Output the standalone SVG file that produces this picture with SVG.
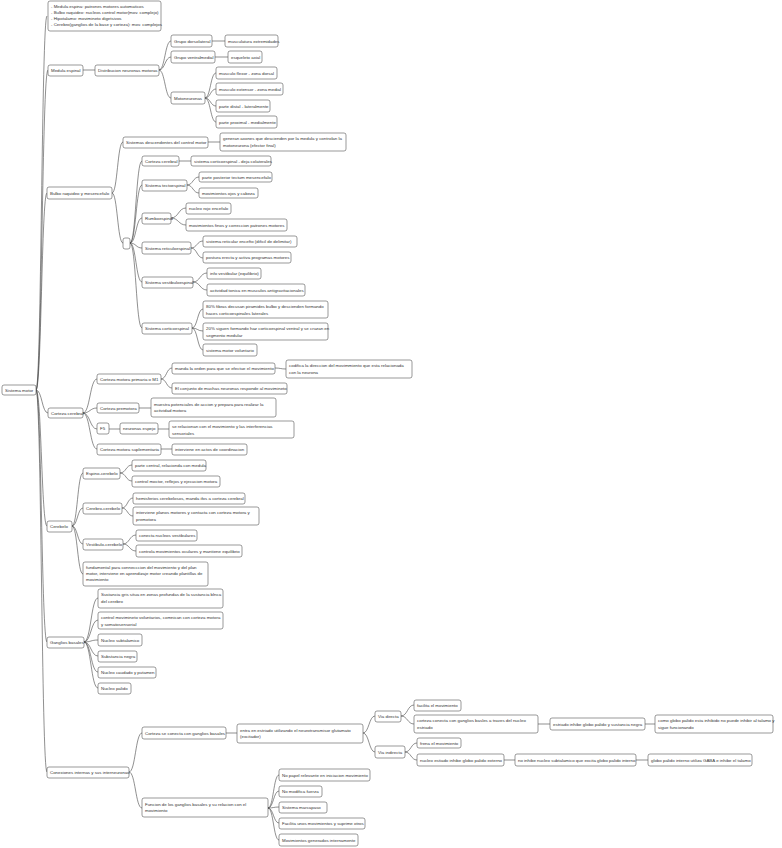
<svg xmlns="http://www.w3.org/2000/svg" width="782" height="848" viewBox="0 0 782 848">
<style>
rect{fill:#fff;stroke:#555;stroke-width:0.6}
text{font-family:"Liberation Sans",Arial,sans-serif;font-size:4.4px;fill:#333}
#connectors path{fill:none;stroke:#444;stroke-width:0.6}
</style>
<rect x="0" y="0" width="782" height="848" style="stroke:none"/>
<g id="connectors">
<path d="M36 390C41.5 390 41.5 16 47 16"/><path d="M36 390C42 390 42 70 48 70"/><path d="M36 390C41.5 390 41.5 193 47 193"/><path d="M36 390C42 390 42 413 48 413"/><path d="M36 390C41.5 390 41.5 526 47 526"/><path d="M36 390C41.5 390 41.5 642 47 642"/><path d="M36 390C41.5 390 41.5 772 47 772"/>
<path d="M83 70H95"/>
<path d="M159 70C165 70 165 41 171 41"/><path d="M159 70C165 70 165 57 171 57"/><path d="M159 70C165 70 165 98 171 98"/>
<path d="M212 41H225"/><path d="M215 57H228"/>
<path d="M205 98C210.5 98 210.5 73 216 73"/><path d="M205 98C210.5 98 210.5 89 216 89"/><path d="M205 98C210.5 98 210.5 106 216 106"/><path d="M205 98C210.5 98 210.5 122 216 122"/>
<path d="M112 193C117.5 193 117.5 142 123 142"/><path d="M112 193C117.5 193 117.5 243 123 243"/>
<path d="M208 142H220"/>
<path d="M130 243C136 243 136 161 142 161"/><path d="M130 243C136 243 136 185 142 185"/><path d="M130 243C136 243 136 218 142 218"/><path d="M130 243C136 243 136 248 142 248"/><path d="M130 243C136 243 136 282 142 282"/><path d="M130 243C136 243 136 328 142 328"/>
<path d="M179 161H191"/>
<path d="M187 185C193 185 193 177 199 177"/><path d="M187 185C193 185 193 193 199 193"/>
<path d="M171 218C178.5 218 178.5 208 186 208"/><path d="M171 218C178.5 218 178.5 225 186 225"/>
<path d="M191 248C197 248 197 241 203 241"/><path d="M191 248C197 248 197 258 203 258"/>
<path d="M193 282C200 282 200 273 207 273"/><path d="M193 282C200 282 200 290 207 290"/>
<path d="M192 328C197.5 328 197.5 309 203 309"/><path d="M192 328C197.5 328 197.5 331 203 331"/><path d="M192 328C197.5 328 197.5 350 203 350"/>
<path d="M83 413C90 413 90 379 97 379"/><path d="M83 413C90 413 90 408 97 408"/><path d="M83 413C90 413 90 429 97 429"/><path d="M83 413C90 413 90 449 97 449"/>
<path d="M161 379C166.5 379 166.5 368 172 368"/><path d="M161 379C166.5 379 166.5 388 172 388"/>
<path d="M275 368C280.5 368 280.5 369 286 369"/>
<path d="M139 408H151"/><path d="M109 429H120"/><path d="M158 429H169"/><path d="M161 449H172"/>
<path d="M72 526C77.5 526 77.5 473 83 473"/><path d="M72 526C77.5 526 77.5 508 83 508"/><path d="M72 526C77.5 526 77.5 544 83 544"/><path d="M72 526C77.5 526 77.5 574 83 574"/>
<path d="M120 473C126 473 126 465 132 465"/><path d="M120 473C126 473 126 481 132 481"/>
<path d="M122 508C127.5 508 127.5 498 133 498"/><path d="M122 508C127.5 508 127.5 516 133 516"/>
<path d="M123 544C129.5 544 129.5 535 136 535"/><path d="M123 544C129.5 544 129.5 551 136 551"/>
<path d="M84 642C91 642 91 598 98 598"/><path d="M84 642C91 642 91 620 98 620"/><path d="M84 642C91 642 91 640 98 640"/><path d="M84 642C91 642 91 656 98 656"/><path d="M84 642C91 642 91 672 98 672"/><path d="M84 642C91 642 91 688 98 688"/>
<path d="M129 772C135.5 772 135.5 733 142 733"/><path d="M129 772C135.5 772 135.5 808 142 808"/>
<path d="M226 733H237"/>
<path d="M363 733C369 733 369 716 375 716"/><path d="M363 733C369 733 369 752 375 752"/>
<path d="M401 716C407.5 716 407.5 705 414 705"/><path d="M401 716C407.5 716 407.5 724 414 724"/>
<path d="M538 724H550"/><path d="M645 724H655"/>
<path d="M405 752C411 752 411 743 417 743"/><path d="M405 752C411 752 411 760 417 760"/>
<path d="M504 760H515"/><path d="M636 760H648"/>
<path d="M268 808C273.5 808 273.5 775 279 775"/><path d="M268 808C273.5 808 273.5 791 279 791"/><path d="M268 808C273.5 808 273.5 807 279 807"/><path d="M268 808C273.5 808 273.5 823 279 823"/><path d="M268 808C273.5 808 273.5 840 279 840"/>
</g>
<g id="n-root"><rect x="2" y="385" width="34" height="10" rx="2"/><text x="5" y="391.6">Sistema motor</text></g>
<g id="n-note"><rect x="48" y="1" width="113" height="30" rx="2"/><text x="51" y="8">- Medula espina: patrones motores automaticos</text><text x="51" y="14">- Bulbo raquideo: nucleos control motor(mov. complejo)</text><text x="51" y="20">- Hipotalamo: movimineto digetsivos</text><text x="51" y="26">- Cerebro(ganglios de la base y corteza): mov. complejos</text></g>
<g id="n-medula"><rect x="48" y="65" width="35" height="11" rx="2"/><text x="51" y="72">Medula espinal</text></g>
<g id="n-distrib"><rect x="95" y="65" width="64" height="11" rx="2"/><text x="98" y="72">Distribucion neuronas motoras</text></g>
<g id="n-gd"><rect x="171" y="35" width="41" height="12" rx="2"/><text x="174" y="42.6">Grupo dorsolateral</text></g>
<g id="n-gd1"><rect x="225" y="35" width="53" height="12" rx="2"/><text x="228" y="42.6">musculatura extremidades</text></g>
<g id="n-gv"><rect x="171" y="51" width="44" height="12" rx="2"/><text x="174" y="58.6">Grupo ventralmedial</text></g>
<g id="n-gv1"><rect x="228" y="51" width="34" height="12" rx="2"/><text x="231" y="58.6">esqueleto axial</text></g>
<g id="n-moto"><rect x="171" y="92" width="34" height="12" rx="2"/><text x="174" y="99.6">Motoneuronas</text></g>
<g id="n-m1"><rect x="216" y="67" width="61" height="12" rx="2"/><text x="219" y="74.6">musculo flexor - zona dorsal</text></g>
<g id="n-m2"><rect x="216" y="83" width="67" height="12" rx="2"/><text x="219" y="90.6">musculo extensor - zona medial</text></g>
<g id="n-m3"><rect x="216" y="100" width="54" height="12" rx="2"/><text x="219" y="107.6">parte distal - lateralmente</text></g>
<g id="n-m4"><rect x="216" y="116" width="61" height="12" rx="2"/><text x="219" y="123.6">parte proximal - medialmente</text></g>
<g id="n-bulbo"><rect x="47" y="187" width="65" height="12" rx="2"/><text x="50" y="194.6">Bulbo raquideo y mesencefalo</text></g>
<g id="n-sisdesc"><rect x="123" y="137" width="85" height="11" rx="2"/><text x="126" y="144">Sistemas descendentes del control motor</text></g>
<g id="n-gen"><rect x="220" y="133" width="126" height="18" rx="2"/><text x="223" y="140">generan axones que descienden por la medula y controlan la</text><text x="223" y="146.5">motoneurona (efector final)</text></g>
<g id="n-empty"><rect x="123" y="238" width="7" height="11" rx="2"/></g>
<g id="n-cc"><rect x="142" y="156" width="37" height="10" rx="2"/><text x="145" y="162.6">Corteza cerebral</text></g>
<g id="n-cc1"><rect x="191" y="156" width="80" height="10" rx="2"/><text x="194" y="162.6">sistema corticoespinal - deja colaterales</text></g>
<g id="n-tect"><rect x="142" y="180" width="45" height="11" rx="2"/><text x="145" y="187">Sistema tectoespinal</text></g>
<g id="n-tect1"><rect x="199" y="172" width="73" height="10" rx="2"/><text x="202" y="178.6">parte posterior tectum mesencefalo</text></g>
<g id="n-tect2"><rect x="199" y="188" width="59" height="10" rx="2"/><text x="202" y="194.6">movimientos ojos y cabeza</text></g>
<g id="n-rumbo"><rect x="142" y="213" width="29" height="11" rx="2"/><text x="145" y="220">Rumboespinal</text></g>
<g id="n-rumbo1"><rect x="186" y="203" width="45" height="11" rx="2"/><text x="189" y="210">nucleo rojo encefalo</text></g>
<g id="n-rumbo2"><rect x="186" y="219" width="101" height="12" rx="2"/><text x="189" y="226.6">movimientos finos y correccion patrones motores</text></g>
<g id="n-retic"><rect x="142" y="242" width="49" height="12" rx="2"/><text x="145" y="249.6">Sistema reticuloespinal</text></g>
<g id="n-retic1"><rect x="203" y="236" width="94" height="11" rx="2"/><text x="206" y="243">sistema reticular encefto (dificil de delimitar)</text></g>
<g id="n-retic2"><rect x="203" y="252" width="88" height="11" rx="2"/><text x="206" y="259">postura erecta y activa programas motores</text></g>
<g id="n-vest"><rect x="142" y="277" width="51" height="11" rx="2"/><text x="145" y="284">Sistema vestibuloespinal</text></g>
<g id="n-vest1"><rect x="207" y="268" width="54" height="11" rx="2"/><text x="210" y="275">info vestibular (equilibrio)</text></g>
<g id="n-vest2"><rect x="207" y="284" width="98" height="12" rx="2"/><text x="210" y="291.6">actividad tonica en musculos antigravitacionales</text></g>
<g id="n-cort"><rect x="142" y="323" width="50" height="11" rx="2"/><text x="145" y="330">Sistema corticoespinal</text></g>
<g id="n-cort1"><rect x="203" y="301" width="125" height="17" rx="2"/><text x="206" y="308">80% fibras decusan piramides bulbo y descienden formando</text><text x="206" y="314.5">haces corticoespinales laterales</text></g>
<g id="n-cort2"><rect x="203" y="323" width="125" height="17" rx="2"/><text x="206" y="330">20% siguen formando haz corticoespinal ventral y se cruzan en</text><text x="206" y="336.5">segmento medular</text></g>
<g id="n-cort3"><rect x="203" y="344" width="54" height="12" rx="2"/><text x="206" y="351.6">sistema motor voluntario</text></g>
<g id="n-ccereb"><rect x="48" y="408" width="35" height="10" rx="2"/><text x="51" y="414.6">Corteza cerebral</text></g>
<g id="n-m1c"><rect x="97" y="374" width="64" height="10" rx="2"/><text x="100" y="380.6">Corteza motora primaria o M1</text></g>
<g id="n-manda"><rect x="172" y="363" width="103" height="11" rx="2"/><text x="175" y="370">manda la orden para que se efectue el movimiento</text></g>
<g id="n-codif"><rect x="286" y="360" width="126" height="18" rx="2"/><text x="289" y="367">codifica la direccion del movimmiento que esta relacionada</text><text x="289" y="373.5">con la neurona</text></g>
<g id="n-conj"><rect x="172" y="383" width="115" height="11" rx="2"/><text x="175" y="390">El conjunto de muchas neuronas responde al movimineto</text></g>
<g id="n-premot"><rect x="97" y="403" width="42" height="10" rx="2"/><text x="100" y="409.6">Corteza premotora</text></g>
<g id="n-premot1"><rect x="151" y="398" width="125" height="19" rx="2"/><text x="154" y="405.5">muestra potenciales de accion y prepara para realizar la</text><text x="154" y="412">actividad motora</text></g>
<g id="n-f5"><rect x="97" y="423" width="12" height="11" rx="2"/><text x="100" y="430">F5</text></g>
<g id="n-espejo"><rect x="120" y="423" width="38" height="11" rx="2"/><text x="123" y="430">neuronas espejo</text></g>
<g id="n-espejo1"><rect x="169" y="421" width="125" height="17" rx="2"/><text x="172" y="428">se relacionan con el movimiento y las interferencias</text><text x="172" y="434.5">sensoriales</text></g>
<g id="n-supl"><rect x="97" y="444" width="64" height="11" rx="2"/><text x="100" y="451">Corteza motora suplementaria</text></g>
<g id="n-supl1"><rect x="172" y="444" width="75" height="11" rx="2"/><text x="175" y="451">interviene en actos de coordinacion</text></g>
<g id="n-cerebelo"><rect x="47" y="521" width="25" height="11" rx="2"/><text x="50" y="528">Cerebelo</text></g>
<g id="n-espino"><rect x="83" y="468" width="37" height="11" rx="2"/><text x="86" y="475">Espino-cerebelo</text></g>
<g id="n-espino1"><rect x="132" y="460" width="74" height="11" rx="2"/><text x="135" y="467">parte central, relacionda con medula</text></g>
<g id="n-espino2"><rect x="132" y="476" width="88" height="11" rx="2"/><text x="135" y="483">control moctor, reflejos y ejecucion motora</text></g>
<g id="n-cerebroc"><rect x="83" y="503" width="39" height="11" rx="2"/><text x="86" y="510">Cerebro-cerebelo</text></g>
<g id="n-cerebroc1"><rect x="133" y="493" width="112" height="11" rx="2"/><text x="136" y="500">hemisferios cerebelosos, manda ifos a corteza cerebral</text></g>
<g id="n-cerebroc2"><rect x="133" y="507" width="126" height="18" rx="2"/><text x="136" y="514">interviene planos motores y contacta con corteza motora y</text><text x="136" y="520.5">premotora</text></g>
<g id="n-vestib"><rect x="83" y="539" width="40" height="11" rx="2"/><text x="86" y="546">Vestibulo-cerebelo</text></g>
<g id="n-vestib1"><rect x="136" y="530" width="61" height="11" rx="2"/><text x="139" y="537">conecta nucleos vestibulares</text></g>
<g id="n-vestib2"><rect x="136" y="545" width="106" height="12" rx="2"/><text x="139" y="552.6">controla movimientos oculares y mantiene equilibrio</text></g>
<g id="n-fund"><rect x="83" y="562" width="125" height="24" rx="2"/><text x="86" y="569">fundamental para connecccion del movimiento y del plan</text><text x="86" y="575">motor, interviene en aprendizaje motor creando plantillas de</text><text x="86" y="581">movimiento</text></g>
<g id="n-ganglios"><rect x="47" y="637" width="37" height="11" rx="2"/><text x="50" y="644">Ganglios basales</text></g>
<g id="n-g1"><rect x="98" y="589" width="125" height="19" rx="2"/><text x="101" y="596">Sustancia gris situa en zonas profundas de la sustancia blnca</text><text x="101" y="602.5">del cerebro</text></g>
<g id="n-g2"><rect x="98" y="612" width="125" height="17" rx="2"/><text x="101" y="619">control movimineto voluntarios, comnican con corteza motora</text><text x="101" y="625.5">y somatosensorial</text></g>
<g id="n-g3"><rect x="98" y="634" width="44" height="12" rx="2"/><text x="101" y="641.6">Nucleo subtalamico</text></g>
<g id="n-g4"><rect x="98" y="651" width="39" height="11" rx="2"/><text x="101" y="658">Substancia negra</text></g>
<g id="n-g5"><rect x="98" y="667" width="58" height="11" rx="2"/><text x="101" y="674">Nucleo caudado y putamen</text></g>
<g id="n-g6"><rect x="98" y="683" width="33" height="11" rx="2"/><text x="101" y="690">Nucleo palido</text></g>
<g id="n-conex"><rect x="47" y="767" width="82" height="11" rx="2"/><text x="50" y="774">Conexiones internas y sus interneuronas</text></g>
<g id="n-cortegb"><rect x="142" y="727" width="84" height="12" rx="2"/><text x="145" y="734.6">Corteza se conecta con ganglios basales</text></g>
<g id="n-entra"><rect x="237" y="724" width="126" height="19" rx="2"/><text x="240" y="731.5">entra en estriado utilizando el neurotransmisor glutamato</text><text x="240" y="738">(excitador)</text></g>
<g id="n-vd"><rect x="375" y="711" width="26" height="11" rx="2"/><text x="378" y="718">Via directa</text></g>
<g id="n-vd1"><rect x="414" y="700" width="47" height="11" rx="2"/><text x="417" y="707">facilita el movimiento</text></g>
<g id="n-vd2"><rect x="414" y="715" width="124" height="18" rx="2"/><text x="417" y="722">corteza conecta con ganglios basles a traves del nucleo</text><text x="417" y="728.5">estriado</text></g>
<g id="n-vd3"><rect x="550" y="718" width="95" height="12" rx="2"/><text x="553" y="725.6">estriado inhibe globo palido y sustancia negra</text></g>
<g id="n-vd4"><rect x="655" y="715" width="118" height="18" rx="2"/><text x="658" y="722">como globo palido esta inhibido no puede inhibir al talamo y</text><text x="658" y="728.5">sigue funcionando</text></g>
<g id="n-vi"><rect x="375" y="746" width="30" height="12" rx="2"/><text x="378" y="753.6">Via indirecta</text></g>
<g id="n-vi1"><rect x="417" y="738" width="44" height="10" rx="2"/><text x="420" y="744.6">frena el movimiento</text></g>
<g id="n-vi2"><rect x="417" y="754" width="87" height="12" rx="2"/><text x="420" y="761.6">nucleo estiado inhibe globo palido externo</text></g>
<g id="n-vi3"><rect x="515" y="754" width="121" height="12" rx="2"/><text x="518" y="761.6">no inhibe nucleo subtalamico que excita globo palido interno</text></g>
<g id="n-vi4"><rect x="648" y="754" width="104" height="12" rx="2"/><text x="651" y="761.6">globo palido interno utiliza GABA  e inhibe el talamo</text></g>
<g id="n-func"><rect x="142" y="798" width="126" height="19" rx="2"/><text x="145" y="805.5">Funcion de los ganglios basales y su relacion con el</text><text x="145" y="812">movimiento</text></g>
<g id="n-f1"><rect x="279" y="769" width="91" height="12" rx="2"/><text x="282" y="776.6">No papel relevante en iniciacion movimiento</text></g>
<g id="n-f2"><rect x="279" y="786" width="43" height="11" rx="2"/><text x="282" y="793">No modifica fuerza</text></g>
<g id="n-f3"><rect x="279" y="802" width="48" height="11" rx="2"/><text x="282" y="809">Sistema marcapaso</text></g>
<g id="n-f4"><rect x="279" y="818" width="86" height="11" rx="2"/><text x="282" y="825">Facilita unos movimientos y suprime otros</text></g>
<g id="n-f5b"><rect x="279" y="834" width="79" height="12" rx="2"/><text x="282" y="841.6">Movimientos generados internamente</text></g>
</svg>
